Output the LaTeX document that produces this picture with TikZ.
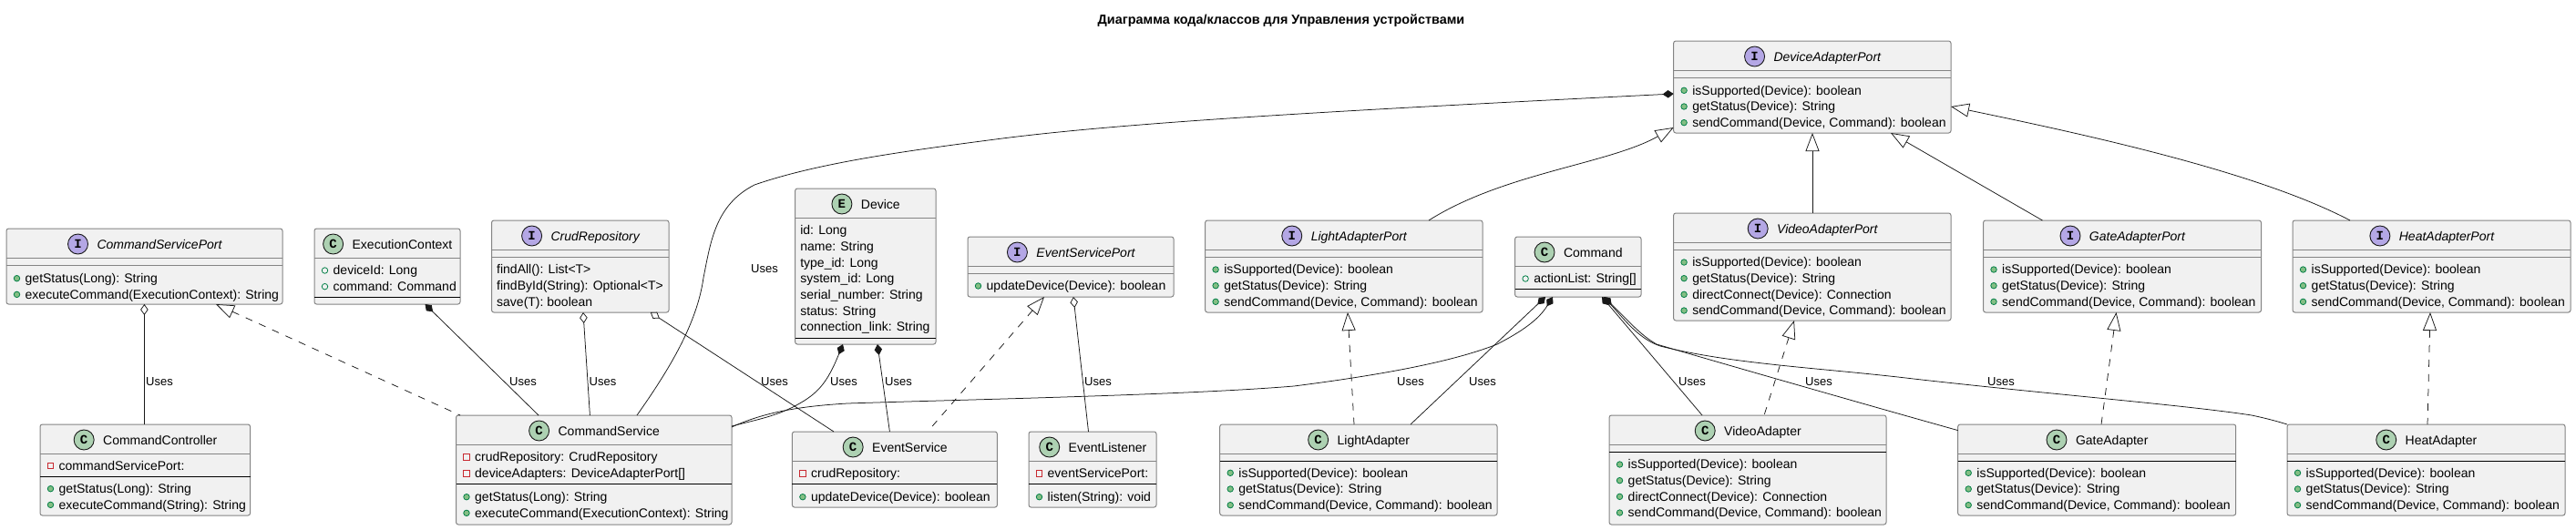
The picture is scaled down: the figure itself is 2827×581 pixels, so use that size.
\documentclass[tikz,border=0pt]{standalone}
\usepackage{fontspec}
\setmainfont{Liberation Sans}
\setmonofont{Liberation Mono}
\usetikzlibrary{arrows.meta, positioning, fit, calc}
\definecolor{boxgrey}{HTML}{F1F1F1}
\definecolor{rulegrey}{HTML}{848484}
\definecolor{inkdark}{HTML}{181818}
\definecolor{spotgreen}{HTML}{ADD1B2}
\definecolor{spotpurple}{HTML}{B4A7E5}
\definecolor{dotgreen}{HTML}{84BE84}
\definecolor{ringgreen}{HTML}{038048}
\definecolor{ringred}{HTML}{C82930}

\tikzset{
  umlbox/.style={draw=rulegrey, fill=boxgrey, line width=1pt, rounded corners=2.5pt, inner sep=0pt, outer sep=0pt},
  spotbase/.style={circle, draw=inkdark, line width=0.9pt, minimum size=22pt, inner sep=0pt, font=\fontsize{14}{14}\selectfont\ttfamily\bfseries},
  spotC/.style={spotbase, fill=spotgreen},
  spotE/.style={spotbase, fill=spotgreen},
  spotI/.style={spotbase, fill=spotpurple},
  titleC/.style={font=\fontsize{14}{17}\selectfont},
  titleE/.style={font=\fontsize{14}{17}\selectfont},
  titleI/.style={font=\fontsize{14}{17}\selectfont\itshape},
  rowtext/.style={anchor=base west, inner sep=0pt, font=\fontsize{14}{17}\selectfont},
  markfn/.style={circle, draw=ringgreen, fill=dotgreen, line width=0.8pt, minimum size=6.5pt, inner sep=0pt},
  markfield/.style={circle, draw=ringgreen, fill=boxgrey, line width=0.8pt, minimum size=6.5pt, inner sep=0pt},
  markpriv/.style={rectangle, draw=ringred, fill=boxgrey, line width=0.8pt, minimum size=6.5pt, inner sep=0pt},
  uselabel/.style={anchor=base west, inner sep=0pt, font=\fontsize{13}{15}\selectfont},
  link/.style={draw=inkdark, line width=0.75pt},
  compo/.style={link, {Diamond[length=12pt,width=8.5pt]}-},
  aggr/.style={link, {Diamond[open,fill=white,length=12pt,width=8.5pt]}-},
  inherit/.style={link, {Triangle[open,fill=white,length=20pt,width=15pt]}-},
  realize/.style={inherit, dash pattern=on 8pt off 8pt}
}

% name, left, top, right, bottom, spot letter, title
\newcommand{\umlclass}[7]{
  \node[umlbox, fit={(#2,#3) (#4,#5)}] (#1) {};
  \node[title#6, anchor=base, inner sep=0pt] (#1-title) at ($(#1.north)+(16.5,22)$) {#7};
  \node[spot#6] (#1-spot) at ($(#1-title.west |- #1.north)+(-20.8,17)$) {#6};
}
\newcommand{\ruleg}[2]{\draw[rulegrey, line width=1pt] (#1.west |- 0,#2) -- (#1.east |- 0,#2);}
\newcommand{\ruleb}[2]{\draw[black, line width=1pt] (#1.west |- 0,#2) -- (#1.east |- 0,#2);}
% name, marker, centre of first row, rows
\newcommand{\umlrows}[4]{
  \foreach \rowtxt [count=\rowi] in {#4} {
    \pgfmathsetmacro{\rowy}{#3+(\rowi-1)*17.67}
    \node[mark#2] (#1-#2\rowi) at ($(#1.west |- 0,\rowy)+(11.5,0)$) {};
    \node[rowtext, yshift=-4.7pt] (#1-#2t\rowi) at ($(#1.west |- 0,\rowy)+(20.5,0)$) {\rowtxt};
  }
}
\newcommand{\umlplain}[3]{
  \foreach \rowtxt [count=\rowi] in {#3} {
    \pgfmathsetmacro{\rowy}{#2+(\rowi-1)*17.67}
    \node[rowtext, yshift=-4.7pt] (#1-t\rowi) at ($(#1.west |- 0,\rowy)+(5.5,0)$) {\rowtxt};
  }
}

\begin{document}
\begin{tikzpicture}[x=1pt, y=-1pt]
  \useasboundingbox[fill=white] (0,0) rectangle (2827,581);

  \node[anchor=base, inner sep=0pt, font=\fontsize{14.4}{17}\selectfont\bfseries] (diagtitle) at (1406,26) {Диаграмма кода/классов для Управления устройствами};

  % left group
  \umlclass{cmdport}{7}{251}{310}{334}{I}{CommandServicePort}
  \ruleg{cmdport}{283} \ruleg{cmdport}{291}
  \umlrows{cmdport}{fn}{305.7}{getStatus(Long): String, executeCommand(ExecutionContext): String}

  \umlclass{cmdctrl}{44}{466}{274.6}{566}{C}{CommandController}
  \ruleg{cmdctrl}{498} \ruleb{cmdctrl}{523}
  \umlrows{cmdctrl}{priv}{511.3}{commandServicePort:}
  \umlrows{cmdctrl}{fn}{536.7}{getStatus(Long): String, executeCommand(String): String}

  \umlclass{execctx}{345}{251}{505}{334}{C}{ExecutionContext}
  \ruleg{execctx}{283} \ruleb{execctx}{326}
  \umlrows{execctx}{field}{297}{deviceId: Long, command: Command}

  \umlclass{crudrepo}{539.5}{242}{734}{343}{I}{CrudRepository}
  \ruleg{crudrepo}{274} \ruleg{crudrepo}{282}
  \umlplain{crudrepo}{296}{findAll(): List<T>, findById(String): Optional<T>, save(T): boolean}

  \umlclass{cmdsvc}{500.5}{456}{803}{576}{C}{CommandService}
  \ruleg{cmdsvc}{488} \ruleb{cmdsvc}{531}
  \umlrows{cmdsvc}{priv}{502}{crudRepository: CrudRepository, deviceAdapters: DeviceAdapterPort[]}
  \umlrows{cmdsvc}{fn}{545.7}{getStatus(Long): String, executeCommand(ExecutionContext): String}

  % middle group
  \umlclass{device}{872.6}{207}{1027}{378}{E}{Device}
  \ruleg{device}{239} \ruleb{device}{371}
  \umlplain{device}{253}{id: Long, name: String, type\_id: Long, system\_id: Long, serial\_number: String, status: String, connection\_link: String}

  \umlclass{eventport}{1062}{260}{1288}{326}{I}{EventServicePort}
  \ruleg{eventport}{292} \ruleg{eventport}{300}
  \umlrows{eventport}{fn}{314}{updateDevice(Device): boolean}

  \umlclass{eventsvc}{869.4}{474}{1094.4}{557}{C}{EventService}
  \ruleg{eventsvc}{506} \ruleb{eventsvc}{531}
  \umlrows{eventsvc}{priv}{520}{crudRepository:}
  \umlrows{eventsvc}{fn}{545.7}{updateDevice(Device): boolean}

  \umlclass{eventlst}{1129}{474}{1269}{557}{C}{EventListener}
  \ruleg{eventlst}{506} \ruleb{eventlst}{531}
  \umlrows{eventlst}{priv}{520}{eventServicePort:}
  \umlrows{eventlst}{fn}{545.7}{listen(String): void}

  % adapters
  \umlclass{devport}{1836.6}{45}{2141}{146}{I}{DeviceAdapterPort}
  \ruleg{devport}{77} \ruleg{devport}{85}
  \umlrows{devport}{fn}{99.3}{isSupported(Device): boolean, getStatus(Device): String, {sendCommand(Device, Command): boolean}}

  \umlclass{lightport}{1322.6}{242}{1627}{343}{I}{LightAdapterPort}
  \ruleg{lightport}{274} \ruleg{lightport}{282}
  \umlrows{lightport}{fn}{296}{isSupported(Device): boolean, getStatus(Device): String, {sendCommand(Device, Command): boolean}}

  \umlclass{lightadp}{1338.7}{466}{1643}{566}{C}{LightAdapter}
  \ruleg{lightadp}{498} \ruleb{lightadp}{506}
  \umlrows{lightadp}{fn}{519.3}{isSupported(Device): boolean, getStatus(Device): String, {sendCommand(Device, Command): boolean}}

  \umlclass{command}{1662.6}{260}{1801}{326}{C}{Command}
  \ruleg{command}{292} \ruleb{command}{317}
  \umlrows{command}{field}{306}{actionList: String[]}

  \umlclass{videoport}{1836.6}{234}{2141}{352}{I}{VideoAdapterPort}
  \ruleg{videoport}{266} \ruleg{videoport}{274}
  \umlrows{videoport}{fn}{288}{isSupported(Device): boolean, getStatus(Device): String, directConnect(Device): Connection, {sendCommand(Device, Command): boolean}}

  \umlclass{videoadp}{1766}{456}{2070}{576}{C}{VideoAdapter}
  \ruleg{videoadp}{488} \ruleb{videoadp}{496}
  \umlrows{videoadp}{fn}{510}{isSupported(Device): boolean, getStatus(Device): String, directConnect(Device): Connection, {sendCommand(Device, Command): boolean}}

  \umlclass{gateport}{2176.5}{242}{2481.5}{343}{I}{GateAdapterPort}
  \ruleg{gateport}{274} \ruleg{gateport}{282}
  \umlrows{gateport}{fn}{296}{isSupported(Device): boolean, getStatus(Device): String, {sendCommand(Device, Command): boolean}}

  \umlclass{gateadp}{2148.7}{466}{2453.7}{566}{C}{GateAdapter}
  \ruleg{gateadp}{498} \ruleb{gateadp}{506}
  \umlrows{gateadp}{fn}{519.3}{isSupported(Device): boolean, getStatus(Device): String, {sendCommand(Device, Command): boolean}}

  \umlclass{heatport}{2516}{242}{2821}{343}{I}{HeatAdapterPort}
  \ruleg{heatport}{274} \ruleg{heatport}{282}
  \umlrows{heatport}{fn}{296}{isSupported(Device): boolean, getStatus(Device): String, {sendCommand(Device, Command): boolean}}

  \umlclass{heatadp}{2510}{466}{2815}{566}{C}{HeatAdapter}
  \ruleg{heatadp}{498} \ruleb{heatadp}{506}
  \umlrows{heatadp}{fn}{519.3}{isSupported(Device): boolean, getStatus(Device): String, {sendCommand(Device, Command): boolean}}

  % connectors
  \draw[aggr] (cmdport.south -| 158.4,0) -- (cmdctrl.north -| 158.4,0);
  \draw[realize] (cmdport.south -| 237,0) -- (cmdsvc.north -| 505,0);
  \draw[compo] (execctx.south -| 466.5,0) -- (cmdsvc.north -| 591,0);
  \draw[aggr] (crudrepo.south -| 640,0) -- (cmdsvc.north -| 647.4,0);
  \draw[aggr] (crudrepo.south -| 713.8,0) -- (eventsvc.north -| 915,0);
  \draw[compo] (devport.west |- 0,103) .. controls (1500,120) and (1250,133) .. (1100,152)
    .. controls (1000,165) and (900,178) .. (828,203)
    .. controls (785,225) and (780,265) .. (772,305)
    .. controls (765,355) and (735,405) .. (cmdsvc.north -| 699,0);
  \draw[compo] (device.south -| 925,0) .. controls (908,420) and (898,432) .. (874,445)
    .. controls (850,458) and (825,462) .. (cmdsvc.east |- 0,468);
  \draw[compo] (device.south -| 963,0) -- (eventsvc.north -| 976.4,0);
  \draw[realize] (eventport.south -| 1146,0) -- (eventsvc.north -| 1018,0);
  \draw[aggr] (eventport.south -| 1178,0) -- (eventlst.north -| 1194.5,0);
  \draw[compo] (command.south -| 1704,0) .. controls (1688,352) and (1668,365) .. (1643,378)
    .. controls (1600,395) and (1530,410) .. (1420,424)
    .. controls (1300,434) and (1050,439) .. (930,443)
    .. controls (880,446) and (840,452) .. (cmdsvc.east |- 0,469);
  \draw[compo] (command.south -| 1696,0) -- (lightadp.north -| 1548,0);
  \draw[compo] (command.south -| 1758,0) -- (videoadp.north -| 1868,0);
  \draw[compo] (command.south -| 1760,0) .. controls (1785,350) and (1800,368) .. (1818,378)
    .. controls (1900,402) and (2050,445) .. (gateadp.west |- 0,472.6);
  \draw[compo] (command.south -| 1760,0) .. controls (1782,350) and (1798,372) .. (1822,380)
    .. controls (1900,400) and (2000,404) .. (2100,416)
    .. controls (2250,433) and (2400,445) .. (2471,456)
    .. controls (2490,460) and (2500,463) .. (heatadp.north west);
  \draw[inherit] (devport.west |- 0,140) .. controls (1766,180) and (1650,190) .. (lightport.north -| 1568,0);
  \draw[inherit] (devport.south -| 1989,0) -- (videoport.north -| 1989,0);
  \draw[inherit] (devport.south -| 2075,0) -- (gateport.north -| 2241.4,0);
  \draw[inherit] (devport.east |- 0,117) .. controls (2300,150) and (2480,190) .. (heatport.north -| 2579,0);
  \draw[realize] (lightport.south -| 1479,0) -- (lightadp.north -| 1486,0);
  \draw[realize] (videoport.south -| 1969,0) -- (videoadp.north -| 1936,0);
  \draw[realize] (gateport.south -| 2322.5,0) -- (gateadp.north -| 2306,0);
  \draw[realize] (heatport.south -| 2667,0) -- (heatadp.north -| 2664,0);

  % labels
  \node[uselabel] (use-ctrl) at (160,423.4) {Uses};
  \node[uselabel] (use-ctx) at (559,423.4) {Uses};
  \node[uselabel] (use-crud) at (646.5,423.4) {Uses};
  \node[uselabel] (use-dev) at (824,299) {Uses};
  \node[uselabel] (use-evcrud) at (835,423.4) {Uses};
  \node[uselabel] (use-devsvc) at (911,423.4) {Uses};
  \node[uselabel] (use-devev) at (971,423.4) {Uses};
  \node[uselabel] (use-lst) at (1190,423.4) {Uses};
  \node[uselabel] (use-cmdsvc) at (1533,423.4) {Uses};
  \node[uselabel] (use-light) at (1612,423.4) {Uses};
  \node[uselabel] (use-video) at (1842,423.4) {Uses};
  \node[uselabel] (use-gate) at (1981,423.4) {Uses};
  \node[uselabel] (use-heat) at (2181,423.4) {Uses};
\end{tikzpicture}
\end{document}
